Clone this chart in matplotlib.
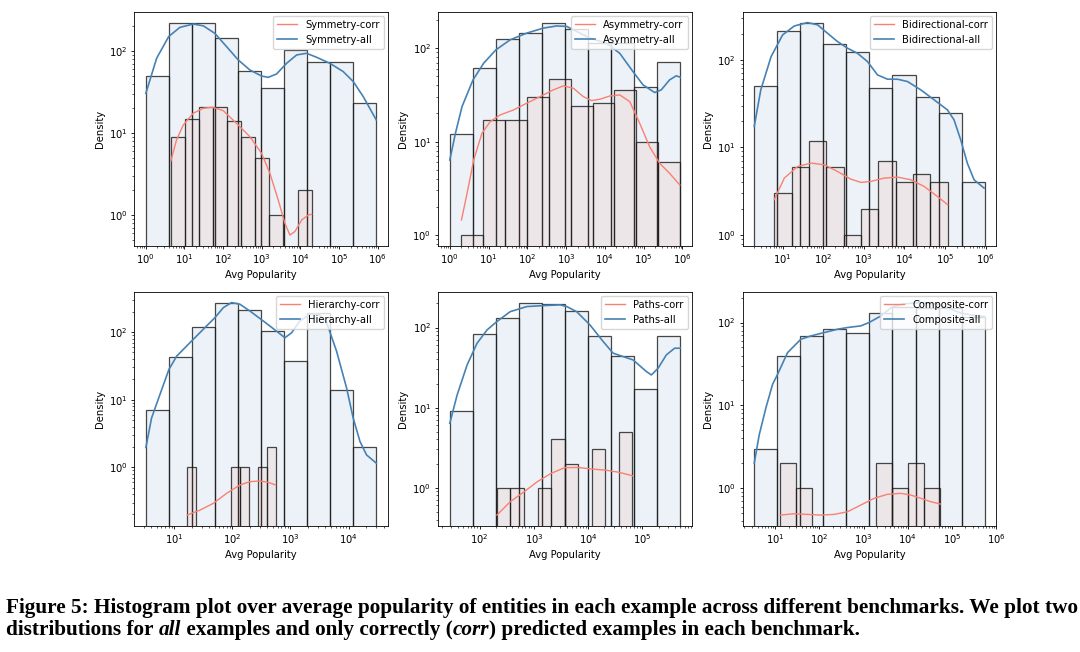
import matplotlib
matplotlib.use("Agg")
import matplotlib.pyplot as plt
import numpy as np

# ---- data (counts per log-spaced bin, kde curves) ----
names = ["Symmetry", "Asymmetry", "Bidirectional", "Hierarchy", "Paths", "Composite"]

sym_all_range = (1, 927000)
sym_all_counts = [50, 221, 222, 143, 57, 35, 103, 73, 74, 23]
sym_corr_range = (4.44, 19600)
sym_corr_counts = [9, 15, 21, 21, 14, 9, 5, 1, 0, 2]
sym_all_kde_x = [1, 1.9, 3.9, 7.6, 17, 31, 61, 123, 247, 495, 990, 1480, 2430, 4400,
                 8000, 14500, 26400, 58400, 129000, 235000, 427000, 927000]
sym_all_kde_y = [30.5, 81.5, 150, 194, 213, 202, 164, 113, 77.6, 58.6, 49.5, 47.7, 52.5,
                 70.7, 89.4, 93.7, 83.7, 70.7, 56, 42.3, 27.7, 14.4]
sym_corr_kde_x = [4.44, 6.2, 9.3, 16.8, 30.6, 53, 101, 223, 495, 990, 1630, 2680, 3990,
                  5380, 7250, 10800, 16100, 19600]
sym_corr_kde_y = [4.56, 8.2, 12.5, 17.4, 20, 20.6, 18.7, 13.1, 9.0, 5.65, 3.22, 1.52, 0.79,
                  0.57, 0.63, 0.87, 1.0, 1.02]

asym_all_range = (1, 885000)
asym_all_counts = [12, 61, 124, 144, 188, 160, 115, 115, 38, 72]
asym_corr_range = (2.0, 867000)
asym_corr_counts = [1, 17, 17, 30, 47, 24, 26, 36, 10, 6]
asym_all_kde_x = [1, 1.4, 2.07, 3.98, 7.48, 15.5, 36.3, 97, 261, 574, 1040, 1880, 4130,
                  11100, 24400, 53700, 97000, 194000, 287000, 471000, 698000, 885000]
asym_all_kde_y = [6.36, 12.3, 23.7, 45.8, 69, 96, 123, 145, 164, 173, 171, 151, 128, 113,
                  88, 56, 40.5, 33.5, 35.8, 45.8, 50.6, 48.9]
asym_corr_kde_x = [2.0, 2.79, 4.14, 6.78, 11.1, 20, 44, 97, 214, 471, 852, 1540, 2790,
                   4560, 7470, 13500, 24400, 44100, 79700, 144000, 261000, 471000, 867000]
asym_corr_kde_y = [1.45, 2.79, 6.36, 12.3, 16.4, 19.3, 21.8, 25.8, 30.3, 35.8, 39.5, 37.3,
                   30.3, 27.5, 28.4, 30.8, 31.6, 26.8, 15.7, 8.8, 5.86, 4.58, 3.43]

bi_all_range = (2.0, 944000)
bi_all_counts = [50, 214, 267, 152, 124, 48, 67, 38, 25, 4]
bi_corr_range = (6.2, 116000)
bi_corr_counts = [3, 6, 12, 6, 1, 2, 7, 4, 5, 4]
bi_all_kde_x = [2.0, 2.9, 5.2, 10, 19.4, 41, 73, 128, 225, 396, 698, 1230, 2170, 3820,
                6730, 11900, 25200, 53700, 114000, 166000, 243000, 354000, 517000, 910000]
bi_all_kde_y = [17.4, 45.5, 109, 193, 244, 267, 251, 201, 162, 136, 119, 95.7, 67.4, 60.2,
                60.2, 56.6, 45.5, 35, 26.9, 20.7, 12.2, 6.6, 4.28, 3.44]
bi_corr_kde_x = [6.2, 11, 23.4, 50, 106, 225, 479, 844, 1490, 3160, 6730, 14300, 30500,
                 64700, 116000]
bi_corr_kde_y = [2.53, 4.47, 6.07, 6.63, 6.34, 5.32, 4.35, 3.99, 4.1, 4.47, 4.59, 4.28,
                 3.59, 2.76, 2.22]

hier_all_range = (3.25, 30000)
hier_all_counts = [7, 43, 119, 270, 212, 104, 37, 190, 14, 2]
hier_corr_range = (16.7, 555)
hier_corr_counts = [1, 0, 0, 0, 0, 1, 1, 0, 1, 2]
hier_all_kde_x = [3.25, 4.07, 5.67, 8.09, 11, 16.3, 24.2, 36, 50, 70, 97, 135, 200, 340,
                  577, 803, 1045, 1454, 2163, 3010, 4190, 6210, 9240, 12000, 15700, 20400,
                  30000]
hier_all_kde_y = [1.96, 5.34, 11.9, 27.9, 44, 62, 87.3, 123, 163, 230, 273, 258, 205, 146,
                  103, 82.4, 97.7, 146, 183, 187, 138, 52.2, 14.9, 5.34, 2.41, 1.52, 1.15]
hier_corr_kde_x = [16.7, 27.7, 46.9, 79.6, 135, 200, 298, 415, 555]
hier_corr_kde_y = [0.196, 0.232, 0.292, 0.411, 0.547, 0.612, 0.627, 0.598, 0.547]

paths_all_range = (28.1, 500000)
paths_all_counts = [9, 84, 133, 205, 198, 162, 79, 44, 17, 79]
paths_corr_range = (208, 65700)
paths_corr_counts = [1, 1, 0, 1, 4, 2, 0, 3, 0, 5]
paths_all_kde_x = [28.1, 38.4, 58.6, 89.5, 137, 208, 366, 741, 1500, 3040, 4030, 6150,
                   10800, 19000, 29000, 44300, 67600, 119000, 147000, 195000, 277000,
                   394000, 500000]
paths_all_kde_y = [6.37, 14.4, 34.1, 63.7, 93.5, 119, 158, 183, 188, 192, 183, 158, 108,
                   66.8, 47.8, 43.4, 39.4, 28.2, 25.6, 31, 45.5, 55.2, 55.2]
paths_corr_kde_x = [208, 366, 662, 1160, 2080, 3700, 6590, 11600, 20600, 36800, 65700]
paths_corr_kde_y = [0.455, 0.668, 0.891, 1.19, 1.51, 1.78, 1.79, 1.71, 1.66, 1.56, 1.41]

comp_all_range = (3.35, 554000)
comp_all_counts = [3, 39, 68, 83, 74, 132, 152, 150, 148, 115]
comp_corr_range = (13, 55000)
comp_corr_counts = [2, 1, 0, 0, 0, 0, 2, 1, 2, 1]
comp_all_kde_x = [3.35, 4.35, 6.15, 8.7, 11.3, 19, 38, 64, 128, 257, 433, 867, 1340, 2460,
                  4520, 8300, 19800, 47100, 94400, 159000, 318000, 554000]
comp_all_kde_y = [2.01, 4.43, 9.33, 17.9, 23.7, 43.3, 62.8, 68.9, 75.6, 83, 87, 91.1, 100,
                  120, 155, 168, 174, 166, 145, 130, 122, 118]
comp_corr_kde_x = [13, 26.9, 53.9, 108, 216, 433, 867, 1740, 3480, 6970, 11700, 19800,
                   33300, 55000]
comp_corr_kde_y = [0.475, 0.493, 0.484, 0.475, 0.484, 0.521, 0.628, 0.757, 0.846, 0.869,
                   0.83, 0.757, 0.689, 0.646]

panels = [
    (sym_all_range, sym_all_counts, sym_corr_range, sym_corr_counts,
     sym_all_kde_x, sym_all_kde_y, sym_corr_kde_x, sym_corr_kde_y),
    (asym_all_range, asym_all_counts, asym_corr_range, asym_corr_counts,
     asym_all_kde_x, asym_all_kde_y, asym_corr_kde_x, asym_corr_kde_y),
    (bi_all_range, bi_all_counts, bi_corr_range, bi_corr_counts,
     bi_all_kde_x, bi_all_kde_y, bi_corr_kde_x, bi_corr_kde_y),
    (hier_all_range, hier_all_counts, hier_corr_range, hier_corr_counts,
     hier_all_kde_x, hier_all_kde_y, hier_corr_kde_x, hier_corr_kde_y),
    (paths_all_range, paths_all_counts, paths_corr_range, paths_corr_counts,
     paths_all_kde_x, paths_all_kde_y, paths_corr_kde_x, paths_corr_kde_y),
    (comp_all_range, comp_all_counts, comp_corr_range, comp_corr_counts,
     comp_all_kde_x, comp_all_kde_y, comp_corr_kde_x, comp_corr_kde_y),
]

caption_line1 = ("Figure 5: Histogram plot over average popularity of entities in each "
                 "example across different benchmarks. We plot two")
caption_line2 = [("distributions for ", "normal"), ("all", "italic"),
                 (" examples and only correctly (", "normal"), ("corr", "italic"),
                 (") predicted examples in each benchmark.", "normal")]

# ---- style ----
FS = 7.2
plt.rcParams.update({
    "font.family": "DejaVu Sans",
    "font.size": FS,
    "axes.linewidth": 0.6,
    "xtick.major.width": 0.6, "ytick.major.width": 0.6,
    "xtick.minor.width": 0.45, "ytick.minor.width": 0.45,
    "xtick.major.size": 2.5, "ytick.major.size": 2.5,
    "xtick.minor.size": 1.45, "ytick.minor.size": 1.45,
    "xtick.major.pad": 2.5, "ytick.major.pad": 2.5,
    "axes.labelpad": 2.9,
})

ALL_C = "steelblue"
CORR_C = "salmon"
EDGE = (0.1, 0.1, 0.1, 0.8)

fig = plt.figure(figsize=(10.8, 6.52), dpi=100)
lefts = [0.1244, 0.4058, 0.6877]
bottoms = [0.6232, 0.1937]
W, H = 0.2347, 0.3585


def log_margin(lo, hi, m=0.05):
    a, b = np.log10(lo), np.log10(hi)
    d = (b - a) * m
    return 10 ** (a - d), 10 ** (b + d)


def draw_bars(ax, rng, counts, color):
    counts = np.asarray(counts, dtype=float)
    edges = np.logspace(np.log10(rng[0]), np.log10(rng[1]), len(counts) + 1)
    keep = counts > 0
    ax.bar(edges[:-1][keep], counts[keep], width=np.diff(edges)[keep], align="edge",
           bottom=1e-3, facecolor=(*matplotlib.colors.to_rgb(color), 0.1),
           edgecolor=EDGE, linewidth=0.9)
    return edges


for i, (name, p) in enumerate(zip(names, panels)):
    a_rng, a_cnt, c_rng, c_cnt, a_kx, a_ky, c_kx, c_ky = p
    ax = fig.add_axes([lefts[i % 3], bottoms[i // 3], W, H])
    ax.set_xscale("log")
    ax.set_yscale("log")
    e_all = draw_bars(ax, a_rng, a_cnt, ALL_C)
    e_corr = draw_bars(ax, c_rng, c_cnt, CORR_C)
    l_all, = ax.plot(a_kx, a_ky, color=ALL_C, lw=1.2)
    l_corr, = ax.plot(c_kx, c_ky, color=CORR_C, lw=1.0)

    xs = np.concatenate([e_all, e_corr])
    ys = np.concatenate([np.asarray(a_cnt)[np.asarray(a_cnt) > 0],
                         np.asarray(c_cnt)[np.asarray(c_cnt) > 0], a_ky, c_ky])
    ax.set_xlim(*log_margin(xs.min(), xs.max()))
    ax.set_ylim(*log_margin(ys.min(), ys.max()))

    ax.set_xlabel("Avg Popularity")
    ax.set_ylabel("Density")
    ax.legend([l_corr, l_all], [f"{name}-corr", f"{name}-all"], loc="upper right",
              fontsize=FS, borderaxespad=0.4)

# ---- caption ----
cap_kw = dict(family="Liberation Serif", weight="bold")
fig.canvas.draw()
r = fig.canvas.get_renderer()
probe = fig.text(0, 0, caption_line1, fontsize=12, **cap_kw)
w = probe.get_window_extent(r).width
probe.remove()
cap_fs = 12 * 1068 / w

fig.text(6 / 1080, 1 - 613 / 652, caption_line1, fontsize=cap_fs, va="baseline", **cap_kw)
x = 6 / 1080
for piece, style in caption_line2:
    t = fig.text(x, 1 - 635 / 652, piece, fontsize=cap_fs, va="baseline",
                 style=style, **cap_kw)
    x += t.get_window_extent(r).width / fig.bbox.width

fig.savefig("out.png", dpi=100)
